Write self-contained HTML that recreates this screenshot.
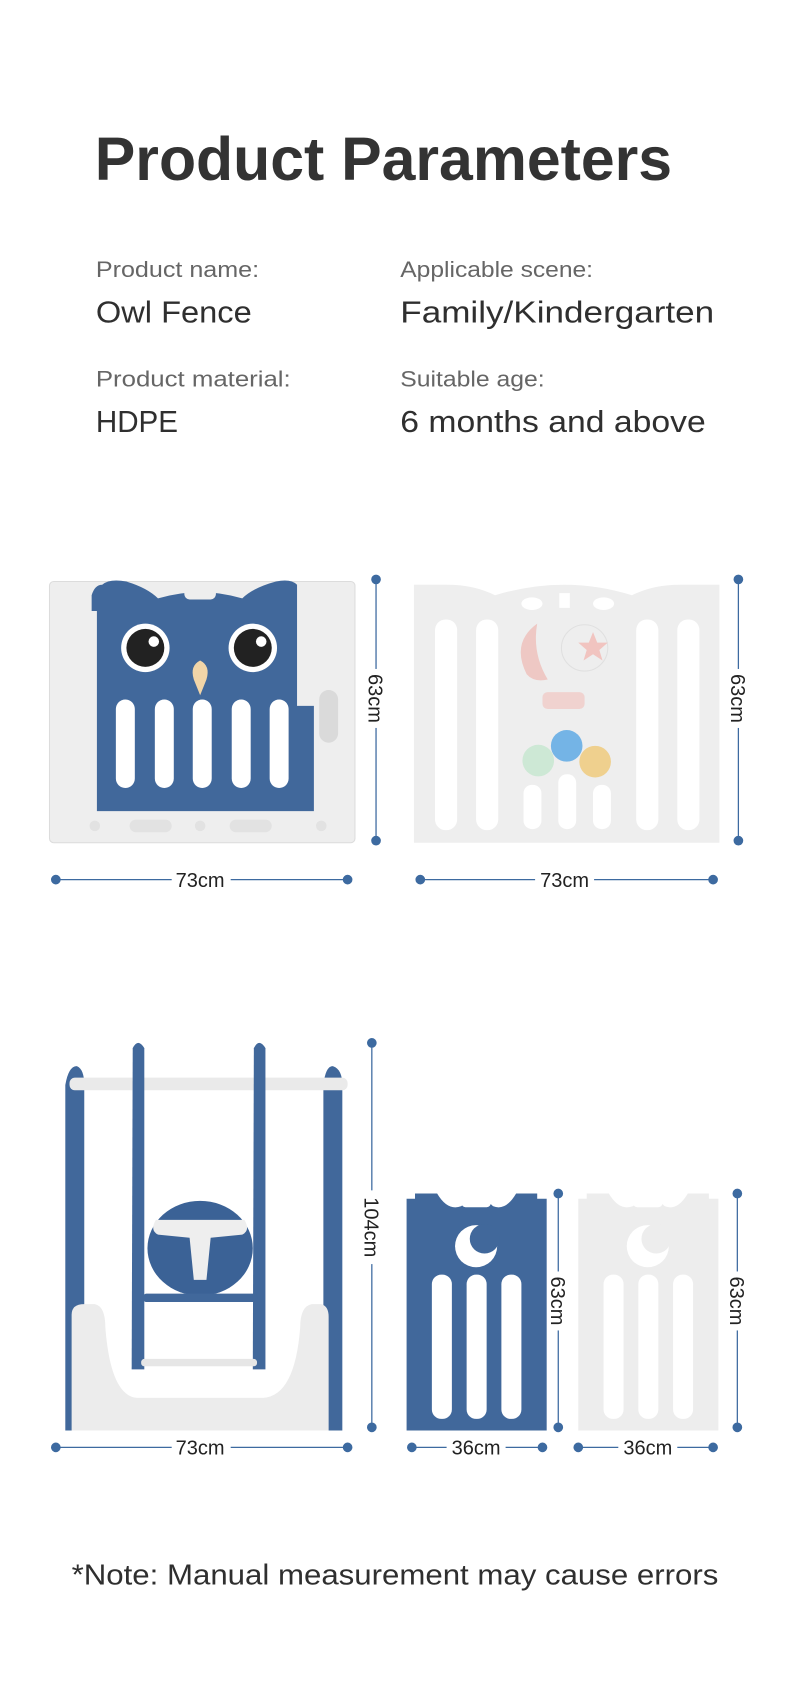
<!DOCTYPE html>
<html><head><meta charset="utf-8"><style>
html,body{margin:0;padding:0;background:#fff;}
svg{display:block}
</style></head><body>
<svg width="790" height="1695" viewBox="0 0 750 1609" xmlns="http://www.w3.org/2000/svg">
<rect width="750" height="1609" fill="#fff"/>
<g font-family="Liberation Sans, sans-serif">
<text x="90" y="171" font-size="58" font-weight="bold" fill="#333" textLength="548" lengthAdjust="spacingAndGlyphs">Product Parameters</text>
<g fill="#666" font-size="21">
<text x="91" y="263" textLength="155" lengthAdjust="spacingAndGlyphs">Product name:</text>
<text x="380" y="263" textLength="183" lengthAdjust="spacingAndGlyphs">Applicable scene:</text>
<text x="91" y="367" textLength="185" lengthAdjust="spacingAndGlyphs">Product material:</text>
<text x="380" y="367" textLength="137" lengthAdjust="spacingAndGlyphs">Suitable age:</text>
</g>
<g fill="#2f2f2f" font-size="29">
<text x="91" y="306" textLength="148" lengthAdjust="spacingAndGlyphs">Owl Fence</text>
<text x="380" y="306" textLength="298" lengthAdjust="spacingAndGlyphs">Family/Kindergarten</text>
<text x="91" y="410" textLength="78" lengthAdjust="spacingAndGlyphs">HDPE</text>
<text x="380" y="410" textLength="290" lengthAdjust="spacingAndGlyphs">6 months and above</text>
</g>
<text x="68" y="1504" font-size="27" fill="#2f2f2f" textLength="614" lengthAdjust="spacingAndGlyphs">*Note: Manual measurement may cause errors</text>
</g>

<!-- Owl panel -->
<rect x="47" y="552" width="290" height="248" rx="4" fill="#eeeeee"/>
<rect x="47" y="552" width="290" height="248" rx="4" fill="none" stroke="#dcdcdc"/>
<path d="M97,555 Q104,549 120,552 Q140,558 150,568 Q190,556 230,568 Q240,558 262,552 Q276,549 282,555 L282,670 L298,670 L298,770 L92,770 L92,580 L87,580 L87,565 Q90,555 97,555 Z" fill="#41689b"/>
<rect x="175" y="557" width="30" height="12" rx="5" fill="#eeeeee"/>
<circle cx="138" cy="615" r="23" fill="#fff"/><circle cx="138" cy="615" r="18" fill="#222"/><circle cx="146" cy="609" r="5" fill="#fff"/>
<circle cx="240" cy="615" r="23" fill="#fff"/><circle cx="240" cy="615" r="18" fill="#222"/><circle cx="248" cy="609" r="5" fill="#fff"/>
<path d="M190,627 Q200,632 196,645 L190,660 L184,645 Q180,632 190,627 Z" fill="#f1d5a8"/>
<g fill="#fff">
<rect x="110" y="664" width="18" height="84" rx="9"/>
<rect x="147" y="664" width="18" height="84" rx="9"/>
<rect x="183" y="664" width="18" height="84" rx="9"/>
<rect x="220" y="664" width="18" height="84" rx="9"/>
<rect x="256" y="664" width="18" height="84" rx="9"/>
</g>
<rect x="303" y="655" width="18" height="50" rx="9" fill="#dadada"/>
<g fill="#e2e2e2"><rect x="123" y="778" width="40" height="12" rx="6"/><rect x="218" y="778" width="40" height="12" rx="6"/><circle cx="90" cy="784" r="5"/><circle cx="190" cy="784" r="5"/><circle cx="305" cy="784" r="5"/></g>

<!-- white panel -->
<path d="M393,555 L425,555 Q450,555 470,565 Q536,545 600,565 Q620,555 645,555 L683,555 L683,800 L393,800 Z" fill="#eeeeee"/>
<g fill="#fff">
<rect x="413" y="588" width="21" height="200" rx="10"/>
<rect x="452" y="588" width="21" height="200" rx="10"/>
<rect x="604" y="588" width="21" height="200" rx="10"/>
<rect x="643" y="588" width="21" height="200" rx="10"/>
<rect x="497" y="745" width="17" height="42" rx="8"/>
<rect x="530" y="735" width="17" height="52" rx="8"/>
<rect x="563" y="745" width="17" height="42" rx="8"/>
<ellipse cx="505" cy="573" rx="10" ry="6"/><rect x="531" y="563" width="10" height="14"/><ellipse cx="573" cy="573" rx="10" ry="6"/>
</g>
<path d="M510,592 Q485,610 500,640 Q507,648 520,645 Q505,620 510,592 Z" fill="#eec8c4"/>
<circle cx="555" cy="615" r="22" fill="none" stroke="#e0e0e0"/>
<path d="M563,600 L567,610 L577,610 L569,617 L572,627 L563,621 L554,627 L557,617 L549,610 L559,610 Z" fill="#f1c4c0"/>
<rect x="515" y="657" width="40" height="16" rx="5" fill="#f0d2cf"/>
<circle cx="511" cy="722" r="15" fill="#cde8d5"/><circle cx="538" cy="708" r="15" fill="#74b4e6"/><circle cx="565" cy="723" r="15" fill="#efd08e"/>

<!-- dims top -->
<g stroke="#3d6aa0" stroke-width="1.2" fill="#3d6aa0">
<line x1="357" y1="550" x2="357" y2="798"/><circle cx="357" cy="550" r="4"/><circle cx="357" cy="798" r="4"/>
<line x1="701" y1="550" x2="701" y2="798"/><circle cx="701" cy="550" r="4"/><circle cx="701" cy="798" r="4"/>
<line x1="53" y1="835" x2="330" y2="835"/><circle cx="53" cy="835" r="4"/><circle cx="330" cy="835" r="4"/>
<line x1="399" y1="835" x2="677" y2="835"/><circle cx="399" cy="835" r="4"/><circle cx="677" cy="835" r="4"/>
<line x1="353" y1="990" x2="353" y2="1355"/><circle cx="353" cy="990" r="4"/><circle cx="353" cy="1355" r="4"/>
<line x1="530" y1="1133" x2="530" y2="1355"/><circle cx="530" cy="1133" r="4"/><circle cx="530" cy="1355" r="4"/>
<line x1="700" y1="1133" x2="700" y2="1355"/><circle cx="700" cy="1133" r="4"/><circle cx="700" cy="1355" r="4"/>
<line x1="53" y1="1374" x2="330" y2="1374"/><circle cx="53" cy="1374" r="4"/><circle cx="330" cy="1374" r="4"/>
<line x1="391" y1="1374" x2="515" y2="1374"/><circle cx="391" cy="1374" r="4"/><circle cx="515" cy="1374" r="4"/>
<line x1="549" y1="1374" x2="677" y2="1374"/><circle cx="549" cy="1374" r="4"/><circle cx="677" cy="1374" r="4"/>
</g>
<g font-family="Liberation Sans, sans-serif" font-size="19" fill="#222" text-anchor="middle">
<rect x="163" y="822" width="56" height="24" fill="#fff"/><text x="190" y="842">73cm</text>
<rect x="508" y="822" width="56" height="24" fill="#fff"/><text x="536" y="842">73cm</text>
<rect x="163" y="1361" width="56" height="24" fill="#fff"/><text x="190" y="1381">73cm</text>
<rect x="424" y="1361" width="56" height="24" fill="#fff"/><text x="452" y="1381">36cm</text>
<rect x="587" y="1361" width="56" height="24" fill="#fff"/><text x="615" y="1381">36cm</text>
<g transform="translate(357,663) rotate(90)"><rect x="-28" y="-12" width="56" height="24" fill="#fff"/><text x="0" y="7">63cm</text></g>
<g transform="translate(701,663) rotate(90)"><rect x="-28" y="-12" width="56" height="24" fill="#fff"/><text x="0" y="7">63cm</text></g>
<g transform="translate(353,1165) rotate(90)"><rect x="-35" y="-12" width="70" height="24" fill="#fff"/><text x="0" y="7">104cm</text></g>
<g transform="translate(530,1235) rotate(90)"><rect x="-28" y="-12" width="56" height="24" fill="#fff"/><text x="0" y="7">63cm</text></g>
<g transform="translate(700,1235) rotate(90)"><rect x="-28" y="-12" width="56" height="24" fill="#fff"/><text x="0" y="7">63cm</text></g>
</g>

<!-- swing -->
<path d="M62,1358 L62,1030 Q65,1012 73,1012 Q80,1015 80,1030 L80,1358 Z" fill="#41689b"/>
<path d="M307,1358 L307,1030 Q309,1012 316,1012 Q325,1015 325,1030 L325,1358 Z" fill="#41689b"/>
<rect x="66" y="1023" width="264" height="12" rx="5" fill="#eaeaea"/>
<path d="M126,995 Q131,985 137,995 L137,1300 L125,1300 Z" fill="#41689b"/>
<path d="M241,995 Q246,985 252,995 L252,1300 L240,1300 Z" fill="#41689b"/>
<ellipse cx="190" cy="1185" rx="50" ry="45" fill="#3b6296"/>
<path d="M148,1158 L232,1158 Q238,1168 230,1172 L200,1175 L196,1215 L184,1215 L180,1175 L150,1172 Q142,1168 148,1158 Z" fill="#eeeeee"/>
<rect x="136" y="1228" width="108" height="8" rx="3" fill="#41689b"/>
<rect x="134" y="1290" width="110" height="7" rx="3" fill="#e6e6e6"/>
<path d="M68,1248 Q68,1238 80,1238 L90,1238 Q100,1240 100,1260 Q105,1325 130,1327 L250,1327 Q280,1325 285,1260 Q285,1240 296,1238 L305,1238 Q312,1240 312,1250 L312,1358 L68,1358 Z" fill="#ececec"/>

<!-- small blue panel -->
<path d="M394,1133 L415,1133 Q425,1150 438,1145 Q453,1130 468,1145 Q480,1150 490,1133 L510,1133 L510,1138 L519,1138 L519,1358 L386,1358 L386,1138 L394,1138 Z" fill="#41689b"/>
<rect x="438" y="1137" width="28" height="9" rx="4" fill="#fff"/>
<circle cx="452" cy="1183" r="20" fill="#fff"/><circle cx="460" cy="1176" r="14" fill="#41689b"/>
<g fill="#fff">
<rect x="410" y="1210" width="19" height="137" rx="9"/><rect x="443" y="1210" width="19" height="137" rx="9"/><rect x="476" y="1210" width="19" height="137" rx="9"/>
</g>
<!-- small white panel -->
<path d="M557,1133 L578,1133 Q588,1150 601,1145 Q616,1130 631,1145 Q643,1150 653,1133 L673,1133 L673,1138 L682,1138 L682,1358 L549,1358 L549,1138 L557,1138 Z" fill="#ededed"/>
<rect x="601" y="1137" width="28" height="9" rx="4" fill="#fff"/>
<circle cx="615" cy="1183" r="20" fill="#fff"/><circle cx="623" cy="1176" r="14" fill="#ededed"/>
<g fill="#fff">
<rect x="573" y="1210" width="19" height="137" rx="9"/><rect x="606" y="1210" width="19" height="137" rx="9"/><rect x="639" y="1210" width="19" height="137" rx="9"/>
</g>
</svg>
</body></html>
